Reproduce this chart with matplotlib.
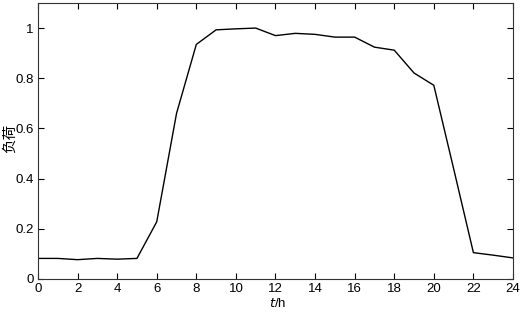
import matplotlib
matplotlib.use("Agg")
import matplotlib.pyplot as plt

plt.rcParams['font.family'] = ['Liberation Sans', 'Noto Sans CJK SC', 'DejaVu Sans']

hours = list(range(25))
load = [0.082, 0.082, 0.077, 0.082, 0.079, 0.082, 0.228, 0.66, 0.935, 0.993,
        0.997, 1.0, 0.97, 0.979, 0.975, 0.964, 0.964, 0.924, 0.912, 0.821,
        0.772, 0.44, 0.105, 0.095, 0.084]

xticks = list(range(0, 25, 2))
yticks = [0, 0.2, 0.4, 0.6, 0.8, 1]
yticklabels = ['0', '0.2', '0.4', '0.6', '0.8', '1']

fig = plt.figure(figsize=(5.27, 3.12), dpi=100)
ax = fig.add_axes([0.0721, 0.1058, 0.9013, 0.8846])
ax.plot(hours, load, color='black', linewidth=1.0)

ax.set_xlim(0, 24)
ax.set_ylim(0, 1.1)
ax.set_xticks(xticks)
ax.set_yticks(yticks)
ax.set_yticklabels(yticklabels)
ax.tick_params(direction='in', top=True, right=True, labelsize=9.5, length=4, width=0.8, pad=3)
for s in ax.spines.values():
    s.set_linewidth(0.8)
    s.set_color('#333333')

ax.set_xlabel('$t$/h', fontsize=9.5)
ax.xaxis.set_label_coords(0.505, -0.066)
ax.set_ylabel('负荷', fontsize=10.5, family=['Noto Sans CJK SC'])
ax.yaxis.set_label_coords(-0.044, 0.51)

fig.savefig('out.png', dpi=100)
